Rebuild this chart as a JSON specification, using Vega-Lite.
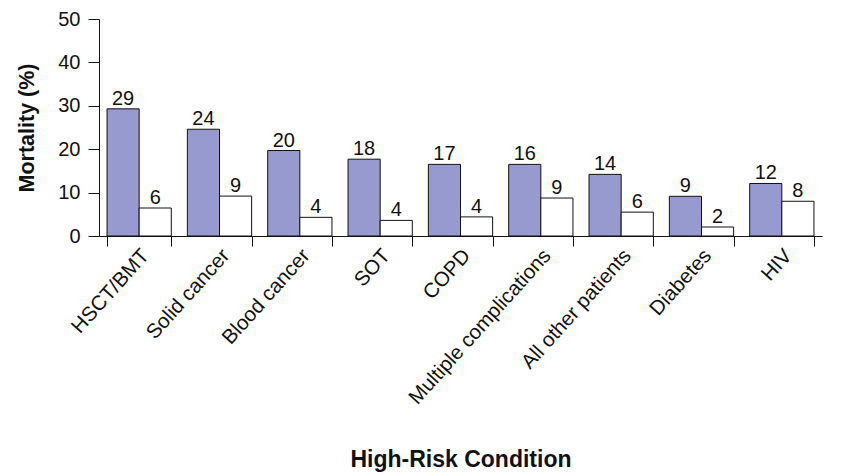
{
  "$schema": "https://vega.github.io/schema/vega-lite/v6.json",
  "width": 723,
  "height": 217,
  "autosize": {"type": "none"},
  "padding": {"left": 99, "top": 19, "right": 23, "bottom": 240},
  "background": "white",
  "config": {
    "font": "Liberation Sans",
    "view": {"stroke": null},
    "axis": {"labelColor": "#111", "titleColor": "#111", "domainColor": "#111", "tickColor": "#111", "grid": false, "labelFont": "Liberation Sans", "titleFont": "Liberation Sans"}
  },
  "data": {
    "values": [
      {"condition": "HSCT/BMT", "series": "Group 1", "mortality": 29.3, "label": "29"},
      {"condition": "HSCT/BMT", "series": "Group 2", "mortality": 6.45, "label": "6"},
      {"condition": "Solid cancer", "series": "Group 1", "mortality": 24.6, "label": "24"},
      {"condition": "Solid cancer", "series": "Group 2", "mortality": 9.2, "label": "9"},
      {"condition": "Blood cancer", "series": "Group 1", "mortality": 19.7, "label": "20"},
      {"condition": "Blood cancer", "series": "Group 2", "mortality": 4.3, "label": "4"},
      {"condition": "SOT", "series": "Group 1", "mortality": 17.7, "label": "18"},
      {"condition": "SOT", "series": "Group 2", "mortality": 3.6, "label": "4"},
      {"condition": "COPD", "series": "Group 1", "mortality": 16.5, "label": "17"},
      {"condition": "COPD", "series": "Group 2", "mortality": 4.4, "label": "4"},
      {"condition": "Multiple complications", "series": "Group 1", "mortality": 16.5, "label": "16"},
      {"condition": "Multiple complications", "series": "Group 2", "mortality": 8.75, "label": "9"},
      {"condition": "All other patients", "series": "Group 1", "mortality": 14.2, "label": "14"},
      {"condition": "All other patients", "series": "Group 2", "mortality": 5.5, "label": "6"},
      {"condition": "Diabetes", "series": "Group 1", "mortality": 9.15, "label": "9"},
      {"condition": "Diabetes", "series": "Group 2", "mortality": 2.07, "label": "2"},
      {"condition": "HIV", "series": "Group 1", "mortality": 12.1, "label": "12"},
      {"condition": "HIV", "series": "Group 2", "mortality": 8.0, "label": "8"}
    ]
  },
  "encoding": {
    "x": {
      "field": "condition", "type": "nominal", "sort": null,
      "scale": {"paddingInner": 0.2, "paddingOuter": 0.1},
      "axis": {
        "title": "High-Risk Condition", "titleFontSize": 23, "titleFontWeight": "bold", "titlePadding": 40,
        "labelAngle": -48, "labelFontSize": 20.5, "labelPadding": 6, "labelOffset": 6, "labelLimit": 400,
        "tickBand": "extent", "tickSize": 10, "tickWidth": 1, "domainWidth": 1
      }
    },
    "xOffset": {"field": "series", "type": "nominal", "scale": {"paddingInner": 0, "paddingOuter": 0}},
    "y": {
      "field": "mortality", "type": "quantitative",
      "scale": {"domain": [0, 50], "nice": false},
      "axis": {
        "title": "Mortality (%)", "titleFontSize": 21.5, "titleFontWeight": "bold", "titlePadding": 19,
        "values": [0, 10, 20, 30, 40, 50], "labelFontSize": 20, "labelPadding": 8,
        "tickSize": 11, "tickWidth": 1, "domainWidth": 1
      }
    }
  },
  "layer": [
    {
      "mark": {"type": "bar", "stroke": "#111", "strokeWidth": 1},
      "encoding": {
        "fill": {"field": "series", "type": "nominal", "scale": {"domain": ["Group 1", "Group 2"], "range": ["#969acf", "#ffffff"]}, "legend": null}
      }
    },
    {
      "mark": {"type": "text", "baseline": "alphabetic", "dy": -4, "fontSize": 20, "color": "#111", "font": "Liberation Sans"},
      "encoding": {"text": {"field": "label"}}
    }
  ]
}
